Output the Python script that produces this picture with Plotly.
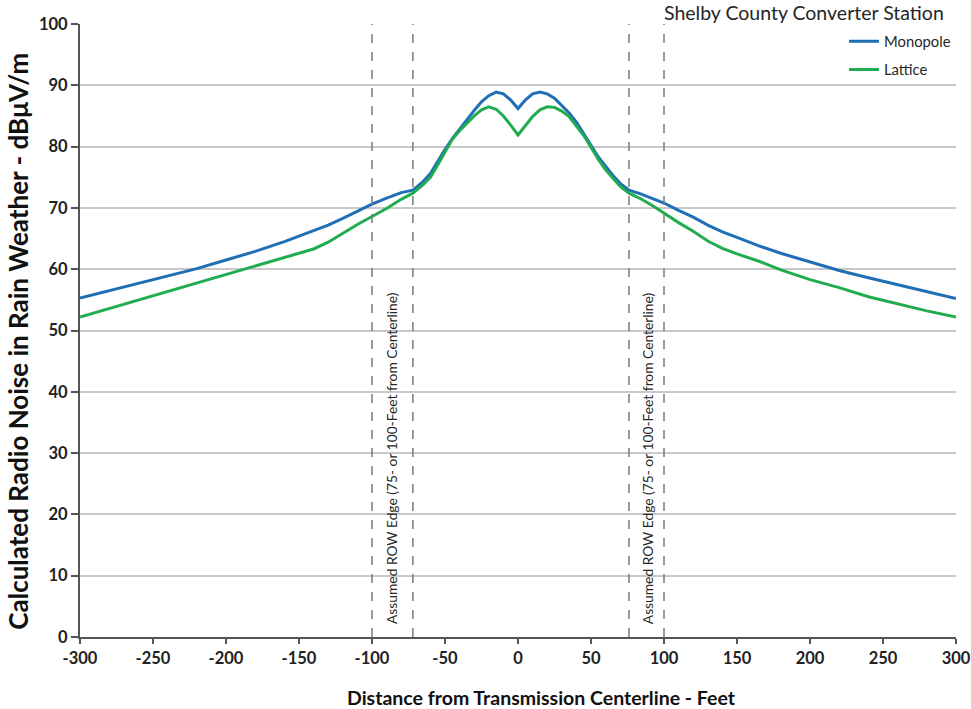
import plotly.graph_objects as go

# Distance from the transmission centerline (feet)
distance_ft = [-300, -280, -260, -240, -220, -200, -180, -160, -140, -130, -120, -110,
               -100, -90, -80, -72, -65, -60, -55, -50, -45, -40, -35, -30, -25, -20,
               -15, -10, -5, 0, 5, 10, 15, 20, 25, 30, 35, 40, 45, 50, 55, 60, 65, 70,
               76, 84, 92, 100, 110, 120, 130, 140, 150, 165, 180, 200, 220, 240, 260,
               280, 300]

# Calculated radio noise in rain weather (dBuV/m)
monopole = [55.3, 56.5, 57.6, 58.8, 60.1, 61.5, 62.9, 64.5, 66.3, 67.2, 68.3, 69.5,
            70.6, 71.6, 72.5, 72.9, 74.3, 75.6, 77.6, 79.5, 81.3, 82.9, 84.4, 85.9,
            87.3, 88.3, 88.9, 88.6, 87.6, 86.2, 87.6, 88.6, 88.9, 88.6, 87.9, 86.7,
            85.5, 84.0, 82.2, 80.2, 78.3, 76.8, 75.3, 74.0, 72.9, 72.3, 71.6, 70.8,
            69.6, 68.5, 67.2, 66.1, 65.2, 63.8, 62.6, 61.2, 59.8, 58.6, 57.5, 56.4, 55.2]

lattice = [52.2, 53.6, 54.9, 56.4, 57.7, 59.2, 60.6, 61.9, 63.3, 64.4, 65.9, 67.3,
           68.6, 69.9, 71.4, 72.4, 73.8, 75.0, 77.0, 79.2, 81.2, 82.6, 83.8, 85.0,
           86.0, 86.5, 86.1, 85.0, 83.5, 81.9, 83.4, 84.9, 86.0, 86.5, 86.4, 85.8,
           84.9, 83.4, 81.8, 79.9, 77.9, 76.2, 74.8, 73.5, 72.4, 71.5, 70.4, 69.1,
           67.6, 66.2, 64.6, 63.4, 62.5, 61.3, 59.9, 58.3, 57.0, 55.5, 54.3, 53.2, 52.2]

# Right-of-way edge markers (feet)
row_edges = [-100, -72, 76, 100]
row_label_x = [-87, 88.5]
row_label = "Assumed ROW Edge (75- or 100-Feet from Centerline)"

x_ticks = list(range(-300, 301, 50))
y_ticks = list(range(0, 101, 10))

FONT = "Lato, 'Open Sans', sans-serif"
BLUE = "#1f6fb6"
GREEN = "#21ad4f"

fig = go.Figure()
fig.add_trace(go.Scatter(x=distance_ft, y=monopole, mode="lines", name="Monopole",
                         line=dict(color=BLUE, width=3), legendgroup="a"))
fig.add_trace(go.Scatter(x=distance_ft, y=lattice, mode="lines", name="Lattice",
                         line=dict(color=GREEN, width=3), legendgroup="b"))

for xe in row_edges:
    fig.add_shape(type="line", x0=xe, x1=xe, y0=0, y1=100, xref="x", yref="y",
                  line=dict(color="#7a7a7a", width=1.5, dash="dash"), layer="above")

for xl in row_label_x:
    fig.add_annotation(x=xl, y=29.2, xref="x", yref="y", text=row_label, textangle=-90,
                       showarrow=False, font=dict(family=FONT, size=13.8, color="#262626"))

fig.add_annotation(x=0.989, y=1.018, xref="paper", yref="paper", xanchor="right",
                   yanchor="middle", text="Shelby County Converter Station", showarrow=False,
                   font=dict(family=FONT, size=19.5, color="#262626"))

fig.add_annotation(x=0.527, y=-0.098, xref="paper", yref="paper", xanchor="center",
                   yanchor="middle", text="<b>Distance from Transmission Centerline - Feet</b>",
                   showarrow=False, font=dict(family=FONT, size=19.5, color="#111111"))

fig.add_annotation(x=-0.071, y=0.483, xref="paper", yref="paper", xanchor="center",
                   yanchor="middle", textangle=-90,
                   text="<b>Calculated Radio Noise in Rain Weather - dB\u03bcV/m</b>",
                   showarrow=False, font=dict(family=FONT, size=26, color="#111111"))

tick_font = dict(family=FONT, size=16.5, color="#222222", weight="bold")

fig.update_layout(
    width=971, height=709,
    margin=dict(l=80, r=15, t=24, b=72, autoexpand=False),
    paper_bgcolor="white", plot_bgcolor="white",
    font=dict(family=FONT, color="#111111"),
    showlegend=True,
    legend=dict(x=1.0, y=0.998, xanchor="right", yanchor="top",
                bgcolor="rgba(0,0,0,0)", font=dict(family=FONT, size=14.8, color="#262626"),
                tracegroupgap=6, itemwidth=30),
    xaxis=dict(range=[-300, 300], tickvals=x_ticks, ticktext=[str(v) for v in x_ticks],
               showgrid=False, zeroline=False, showline=True, linecolor="#555555",
               linewidth=2, ticks="outside", ticklen=5, tickwidth=1.5, tickcolor="#555555",
               tickfont=tick_font),
    yaxis=dict(range=[0, 100], tickvals=y_ticks, showgrid=True, gridcolor="#c8c8c8",
               gridwidth=1.5, zeroline=False, showline=True, linecolor="#555555",
               linewidth=2, ticks="outside", ticklen=7, tickwidth=1.5, tickcolor="#555555",
               tickfont=tick_font),
)

fig.write_html("out.html")
